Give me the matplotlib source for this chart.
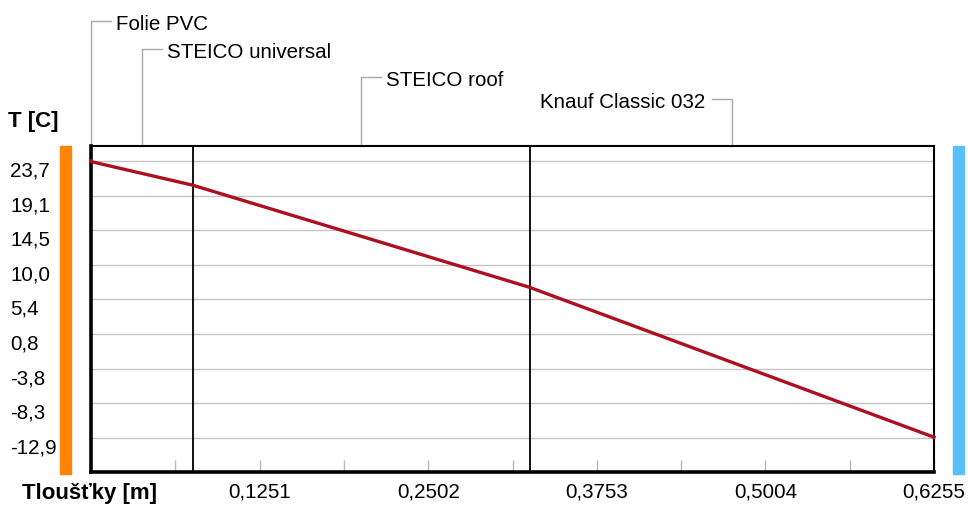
import matplotlib.pyplot as plt
import matplotlib.transforms as mtransforms
from matplotlib.patches import Rectangle

# vrstvy konstrukce (od interieru)
layers = ['Folie PVC', 'STEICO universal', 'STEICO roof', 'Knauf Classic 032']
boundary_x = [0.0, 0.0005, 0.0755, 0.3255, 0.6255]
boundary_t = [23.7, 23.6, 20.5, 7.0, -12.8]

y_ticks = [23.7, 19.125, 14.55, 9.975, 5.4, 0.825, -3.75, -8.325, -12.9]
y_labels = ['23,7', '19,1', '14,5', '10,0', '5,4', '0,8', '-3,8', '-8,3', '-12,9']
x_ticks = [0.1251, 0.2502, 0.3753, 0.5004, 0.6255]
x_labels = ['0,1251', '0,2502', '0,3753', '0,5004', '0,6255']

W, H = 968, 506
fig = plt.figure(figsize=(W / 100, H / 100), dpi=100)
ax_l, ax_r, ax_t, ax_b = 91, 934, 147, 473
ax = fig.add_axes([ax_l / W, (H - ax_b) / H, (ax_r - ax_l) / W, (ax_b - ax_t) / H])

fnt = 'Liberation Sans'
fs = 14.8

ax.set_xlim(0, 0.6255)
ax.set_ylim(-17.4, 25.68)

for y in y_ticks:
    ax.axhline(y, color='#c4c4c4', lw=1, zorder=1)

for x in boundary_x[2:-1]:
    ax.axvline(x, color='black', lw=1.3, zorder=2)

ax.plot(boundary_x, boundary_t, color='#ad1020', lw=2.4, zorder=3, clip_on=False)

ax.set_yticks(y_ticks)
ax.set_yticklabels(y_labels, fontsize=fs, family=fnt, ha='left')
ax.tick_params(axis='y', length=0, pad=58)
shift = mtransforms.ScaledTranslation(0, -7 / 100, fig.dpi_scale_trans)
for lbl in ax.get_yticklabels():
    lbl.set_transform(lbl.get_transform() + shift)

ax.set_xticks(x_ticks)
ax.set_xticklabels(x_labels, fontsize=fs, family=fnt)
minor = [t - 0.06255 for t in x_ticks]
ax.set_xticks(minor, minor=True)
ax.tick_params(axis='x', which='both', direction='in', length=9, color='#b8b8b8', width=1, pad=7)

for s in ['left', 'bottom']:
    ax.spines[s].set_linewidth(2.6)
for s in ['top', 'right']:
    ax.spines[s].set_linewidth(1.5)

# popisky vrstev
levels = [22, 50, 78, 100]
arm = 20 / (ax_r - ax_l) * 0.6255
trans = mtransforms.blended_transform_factory(ax.transData, ax.transAxes)
txt_shift = mtransforms.ScaledTranslation(0, -2 / 100, fig.dpi_scale_trans)
for i, name in enumerate(layers):
    mid = (boundary_x[i] + boundary_x[i + 1]) / 2
    lv = (ax_b - levels[i]) / (ax_b - ax_t)
    if i < 3:
        xs = [mid, mid, mid + arm]
        ax.text(mid + arm * 1.25, lv, name, transform=trans + txt_shift, fontsize=fs,
                family=fnt, ha='left', va='center')
    else:
        xs = [mid, mid, mid - arm]
        ax.text(mid - arm * 1.35, lv, name, transform=trans + txt_shift, fontsize=fs,
                family=fnt, ha='right', va='center')
    ax.plot(xs, [1, lv, lv], color='#a8a8a8', lw=1, transform=trans, clip_on=False)

# teplotni pruhy
fig.patches.append(Rectangle((60 / W, (H - 475) / H), 11 / W, 328 / H,
                             color='#ff8406', transform=fig.transFigure))
fig.patches.append(Rectangle((953 / W, (H - 475) / H), 11 / W, 328 / H,
                             color='#58bff8', transform=fig.transFigure))

fig.text(8 / W, 1 - 122 / H, 'T [C]', fontsize=16, fontweight='bold',
         family=fnt, ha='left', va='center')
fig.text(22 / W, 1 - 494 / H, 'Tloušťky [m]', fontsize=16, fontweight='bold',
         family=fnt, ha='left', va='center')

fig.savefig('out.png', dpi=100, facecolor='white')
